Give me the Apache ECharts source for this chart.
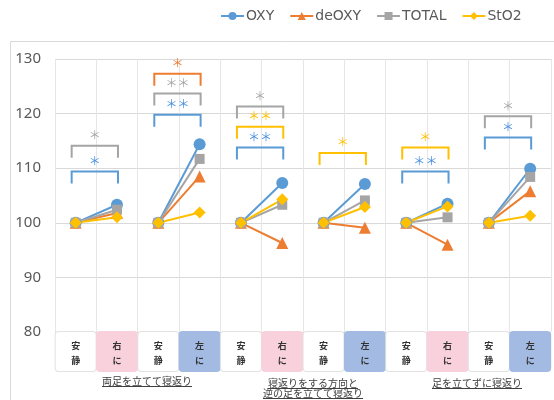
<!DOCTYPE html>
<html><head><meta charset="utf-8">
<script src="https://cdn.jsdelivr.net/npm/echarts@6/dist/echarts.min.js"></script>
<style>html,body{margin:0;padding:0;background:#fff}#c{width:554px;height:400px}</style>
</head><body><div id="c"></div>
<script>
const categories = ['安静','右に','安静','左に','安静','右に','安静','左に','安静','右に','安静','左に'];
const groupLabels = ['両足を立てて寝返り', '寝返りをする方向と\n逆の足を立てて寝返り', '足を立てずに寝返り'];
const seriesNames = ['OXY','deOXY','TOTAL','StO2'];
const oxy   = [100,103.3, 100,114.4, 100,107.3, 100,107.1, 100,103.5, 100,109.9];
const deoxy = [100,101.8, 100,108.5, 100,96.3,  100,99.1,  100,96.0,  100,105.8];
const total = [100,102.4, 100,111.7, 100,103.3, 100,104.1, 100,101.0, 100,108.4];
const sto2  = [100,101.0, 100,101.9, 100,104.3, 100,102.9, 100,103.0, 100,101.3];
const yMin = 80, yMax = 130, yStep = 10;
// significance brackets
const sigPair    = [0, 0, 1, 1, 1, 2, 2, 2, 3, 4, 4, 5, 5];
const sigTop     = [114.1, 109.4, 127.3, 123.7, 119.8, 121.3, 117.6, 113.8, 112.8, 113.8, 109.4, 119.5, 115.6];
const sigMeasure = ['TOTAL','OXY','deOXY','TOTAL','OXY','TOTAL','StO2','OXY','StO2','StO2','OXY','TOTAL','OXY'];
const sigStars   = ['＊','＊','＊','＊＊','＊＊','＊','＊＊','＊＊','＊','＊','＊＊','＊','＊'];

const colors = {OXY:'#5B9BD5', deOXY:'#ED7D31', TOTAL:'#A5A5A5', StO2:'#FFC000'};
const starColors = {OXY:'#4A8FE0', deOXY:'#ED7D31', TOTAL:'#A5A5A5', StO2:'#FFC000'};
const symbols = {OXY:['circle',12], deOXY:['triangle',12], TOTAL:['rect',10], StO2:['diamond',12]};
const values = {OXY:oxy, deOXY:deoxy, TOTAL:total, StO2:sto2};
const boxColor = {'安静':'#FFFFFF','右に':'#F9D1DD','左に':'#A3BBE3'};

const series = [];
seriesNames.forEach(name => {
  for (let p = 0; p < categories.length / 2; p++) {
    const d = categories.map((c, i) => (i === 2*p || i === 2*p+1) ? values[name][i] : null);
    series.push({
      name, type:'line', data:d, symbol:symbols[name][0], symbolSize:symbols[name][1],
      color:colors[name], lineStyle:{width:2, color:colors[name]}, itemStyle:{color:colors[name]},
      connectNulls:false, animation:false, silent:true
    });
  }
});
series.push({
  type:'custom', animation:false, silent:true, z:5,
  data: sigPair.map((p, i) => [2*p, sigTop[i], i]),
  encode:{x:0, y:1},
  renderItem(params, api) {
    const i = api.value(2);
    const c0 = api.value(0);
    const a = api.coord([c0, api.value(1)]);
    const b = api.coord([c0 + 1, api.value(1)]);
    const l = a[0] - 4, r = b[0] + 1, y = a[1];
    const col = colors[sigMeasure[i]];
    return {type:'group', children:[
      {type:'polyline', shape:{points:[[l, y+12],[l, y],[r, y],[r, y+12]]}, style:{stroke:col, lineWidth:2, fill:null}},
      {type:'text', x:(l+r)/2, y:y-10, style:{text:sigStars[i], fill:starColors[sigMeasure[i]], font:'12px "Noto Sans CJK JP"', align:'center', verticalAlign:'middle'}}
    ]};
  }
});

const xData = categories.map(c => ({
  value: c,
  textStyle: {backgroundColor: boxColor[c], borderColor: c === '安静' ? '#E2E2E2' : boxColor[c], borderWidth: 1}
}));

const graphics = [
  {type:'rect', z:-10, shape:{x:10.5, y:41.5, width:700, height:500}, style:{stroke:'#D9D9D9', fill:null, lineWidth:1}}
];
const labelPos = [[147, 381], [313, 383], [477, 383]];
groupLabels.forEach((t, gi) => {
  const lines = t.split('\n');
  lines.forEach((ln, li) => {
    const cx = labelPos[gi][0], cy = labelPos[gi][1] + li * 10;
    const w = ln.length * 10;
    graphics.push({type:'text', x:cx, y:cy, style:{text:ln, fill:'#404040', font:'10px "Noto Sans CJK JP"', align:'center', verticalAlign:'middle'}});
    graphics.push({type:'line', shape:{x1:cx - w/2, y1:cy + 5.5, x2:cx + w/2, y2:cy + 5.5}, style:{stroke:'#404040', lineWidth:1}});
  });
});

const chart = echarts.init(document.getElementById('c'));
chart.setOption({
  animation:false,
  backgroundColor:'#fff',
  legend:{
    data: seriesNames, left:220, top:9, itemGap:15, itemWidth:23, itemHeight:10, padding:0,
    textStyle:{fontSize:14, color:'#595959', fontFamily:'DejaVu Sans', padding:[0,0,0,-3]}
  },
  grid:{left:55, top:59, bottom:68, width:500, containLabel:false},
  xAxis:{
    type:'category', data:xData, boundaryGap:true,
    axisLine:{show:false}, axisTick:{show:false},
    splitLine:{show:true, interval:0, lineStyle:{color:'#E6E6E6', width:1}},
    axisLabel:{
      interval:0, hideOverlap:false, margin:0,
      formatter: v => v.split('').join('\n'),
      fontSize:9, fontWeight:'bold', color:'#333', lineHeight:15,
      fontFamily:'Noto Sans CJK JP',
      width:40, padding:[6,0,3,0], borderRadius:3, align:'center', verticalAlign:'top'
    }
  },
  yAxis:{
    type:'value', min:yMin, max:yMax, interval:yStep,
    axisLine:{show:false}, axisTick:{show:false},
    splitLine:{lineStyle:{color:'#D9D9D9'}},
    axisLabel:{fontSize:15, color:'#595959', margin:14, fontFamily:'Noto Sans'}
  },
  graphic: graphics,
  series
});
</script></body></html>
